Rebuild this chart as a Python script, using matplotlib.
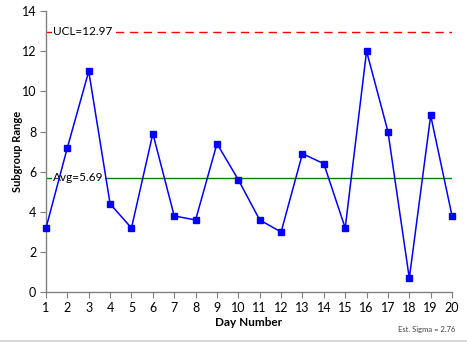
import numpy as np
import matplotlib
matplotlib.use('Agg')
import matplotlib.pyplot as plt
from matplotlib.lines import Line2D

plt.rcParams['font.family'] = ['Lato', 'DejaVu Sans']

# %% data
days = list(range(1, 21))
ranges = [3.2, 7.2, 11.0, 4.4, 3.2, 7.9, 3.8, 3.6, 7.4, 5.6,
          3.6, 3.0, 6.9, 6.4, 3.2, 12.0, 8.0, 0.7, 8.8, 3.8]
ucl = 12.97
avg = 5.69
est_sigma = 2.76

# %% plot
fig = plt.figure(figsize=(4.67, 3.42), dpi=100)
ax = fig.add_axes([0.0985, 0.1453, 0.8695, 0.8225])

ax.axhline(ucl, color='red', linestyle=(0, (6, 4)), linewidth=1, zorder=1)
ax.axhline(avg, color='green', linestyle='-', linewidth=1, zorder=1)
ax.plot(days, ranges, '-', color='blue', linewidth=1.1, marker='s', ms=4.3,
        zorder=3, clip_on=False)

ax.text(1.33, ucl, 'UCL=12.97', fontsize=8.5, va='center', ha='left', color='black',
        bbox=dict(facecolor='white', edgecolor='none', pad=1), zorder=2)
ax.text(1.33, avg, 'Avg=5.69', fontsize=8.5, va='center', ha='left', color='black',
        bbox=dict(facecolor='white', edgecolor='none', pad=1), zorder=2)

ax.set_xlim(1, 20)
ax.set_ylim(0, 14)
ax.set_xticks(days)
ax.set_yticks(np.arange(0, 15, 2))
ax.tick_params(axis='both', direction='out', length=4, color='#808080',
               labelsize=9, labelcolor='black')
ax.tick_params(axis='x', pad=3)
ax.tick_params(axis='y', pad=3)
for side in ['top', 'right']:
    ax.spines[side].set_visible(False)
for side in ['left', 'bottom']:
    ax.spines[side].set_color('#808080')
    ax.spines[side].set_linewidth(1)

ax.set_xlabel('Day Number', fontsize=8.5, fontweight='bold')
ax.set_ylabel('Subgroup Range', fontsize=8, fontweight='bold')
ax.xaxis.set_label_coords(0.5, -0.107)
ax.xaxis.label.set_va('center')
ax.yaxis.set_label_coords(-0.071, 0.5)
ax.yaxis.label.set_va('center')

fig.text(0.975, 0.036, 'Est. Sigma = %.2f' % est_sigma, fontsize=5.5,
         ha='right', va='center', color='#404040')
fig.add_artist(Line2D([0, 1], [0.004, 0.004], color='#d9d9d9', linewidth=1.5,
                      transform=fig.transFigure))

fig.savefig('out.png', dpi=100)
